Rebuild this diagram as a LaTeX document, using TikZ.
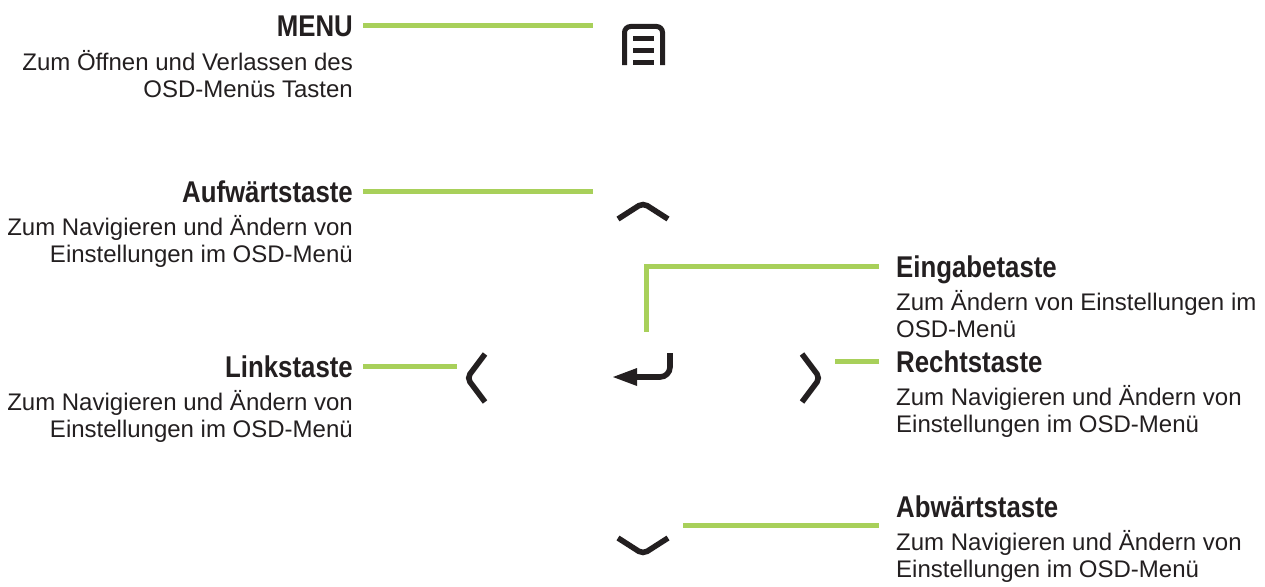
\documentclass[tikz,border=0pt]{standalone}
\usepackage{fontspec}
\setmainfont{Liberation Sans}
\newfontfamily\headfont[FakeStretch=0.86]{Liberation Sans}
\usetikzlibrary{arrows.meta, positioning}
\definecolor{leadgreen}{RGB}{168,208,90}
\definecolor{keyblack}{RGB}{35,31,32}
\tikzset{
  title/.style={inner sep=0pt, text=keyblack, text height=22pt, text depth=0pt,
    font=\headfont\bfseries\fontsize{30}{33}\selectfont},
  desc/.style={inner sep=0pt, text=keyblack, font=\fontsize{24}{27.5}\selectfont},
  lead/.style={draw=leadgreen, line width=5pt},
  key/.style={draw=keyblack, line width=5.6pt},
}
\newcommand{\firstline}{\rule{0pt}{22pt}}

\begin{document}
\begin{tikzpicture}[x=1pt, y=-1pt]
  \useasboundingbox (0,0) rectangle (1265,586);

  % left column
  \node[title, anchor=base east] (menu) at (353,37) {MENU};
  \node[desc, align=right, below left=11pt and 0pt of menu.base east] (menutext)
    {\firstline Zum Öffnen und Verlassen des\\OSD-Menüs Tasten};
  \node[title, anchor=base east] (auf) at (353,202) {Aufwärtstaste};
  \node[desc, align=right, below left=11pt and 0pt of auf.base east] (auftext)
    {\firstline Zum Navigieren und Ändern von\\Einstellungen im OSD-Menü};
  \node[title, anchor=base east] (link) at (353,377) {Linkstaste};
  \node[desc, align=right, below left=11pt and 0pt of link.base east] (linktext)
    {\firstline Zum Navigieren und Ändern von\\Einstellungen im OSD-Menü};

  % right column
  \node[title, anchor=base west] (ein) at (896,277) {Eingabetaste};
  \node[desc, align=left, below right=11pt and 0pt of ein.base west] (eintext)
    {\firstline Zum Ändern von Einstellungen im\\OSD-Menü};
  \node[title, anchor=base west] (rechts) at (896,372) {Rechtstaste};
  \node[desc, align=left, below right=11pt and 0pt of rechts.base west] (rechtstext)
    {\firstline Zum Navigieren und Ändern von\\Einstellungen im OSD-Menü};
  \node[title, anchor=base west] (ab) at (896,517) {Abwärtstaste};
  \node[desc, align=left, below right=11pt and 0pt of ab.base west] (abtext)
    {\firstline Zum Navigieren und Ändern von\\Einstellungen im OSD-Menü};

  % keys
  \draw[key, line width=5pt, rounded corners=6pt] (624.5,65) -- (624.5,26.5) -- (662.5,26.5) -- (662.5,65);
  \foreach \y in {38.5,50.5,62.5}
    \draw[key, line width=4.8pt] (633,\y) -- (654,\y);
  \draw[key, rounded corners=5pt] (618,219) -- (643,203) -- (668,219);
  \draw[key, rounded corners=5pt] (618,538) -- (643,554) -- (668,538);
  \draw[key, rounded corners=5pt] (485,354) -- (467,378) -- (485,402);
  \draw[key, rounded corners=5pt] (802,354) -- (820,378) -- (802,402);
  \draw[key, rounded corners=10pt, -{Triangle[length=24pt, width=18pt, line width=0pt]}]
    (670,353) -- (670,377) -- (613,377);

  % connector ends
  \coordinate (menuend) at (593,27);
  \coordinate (upend) at (593,193);
  \coordinate (leftend) at (457,366);
  \coordinate (enterend) at (646,332);
  \coordinate (rightend) at (835,361);
  \coordinate (downend) at (683,525);

  \draw[lead, shorten <=10pt] (menu.east) -- (menu.east -| menuend);
  \draw[lead, shorten <=10pt] (auf.east) -- (auf.east -| upend);
  \draw[lead, shorten <=10pt] (link.east) -- (link.east -| leftend);
  \draw[lead, shorten <=17pt] (ein.west) -| (enterend);
  \draw[lead, shorten <=17pt] (rechts.west) -- (rechts.west -| rightend);
  \draw[lead, shorten >=17pt] (downend) -- (downend -| ab.west);
\end{tikzpicture}
\end{document}
